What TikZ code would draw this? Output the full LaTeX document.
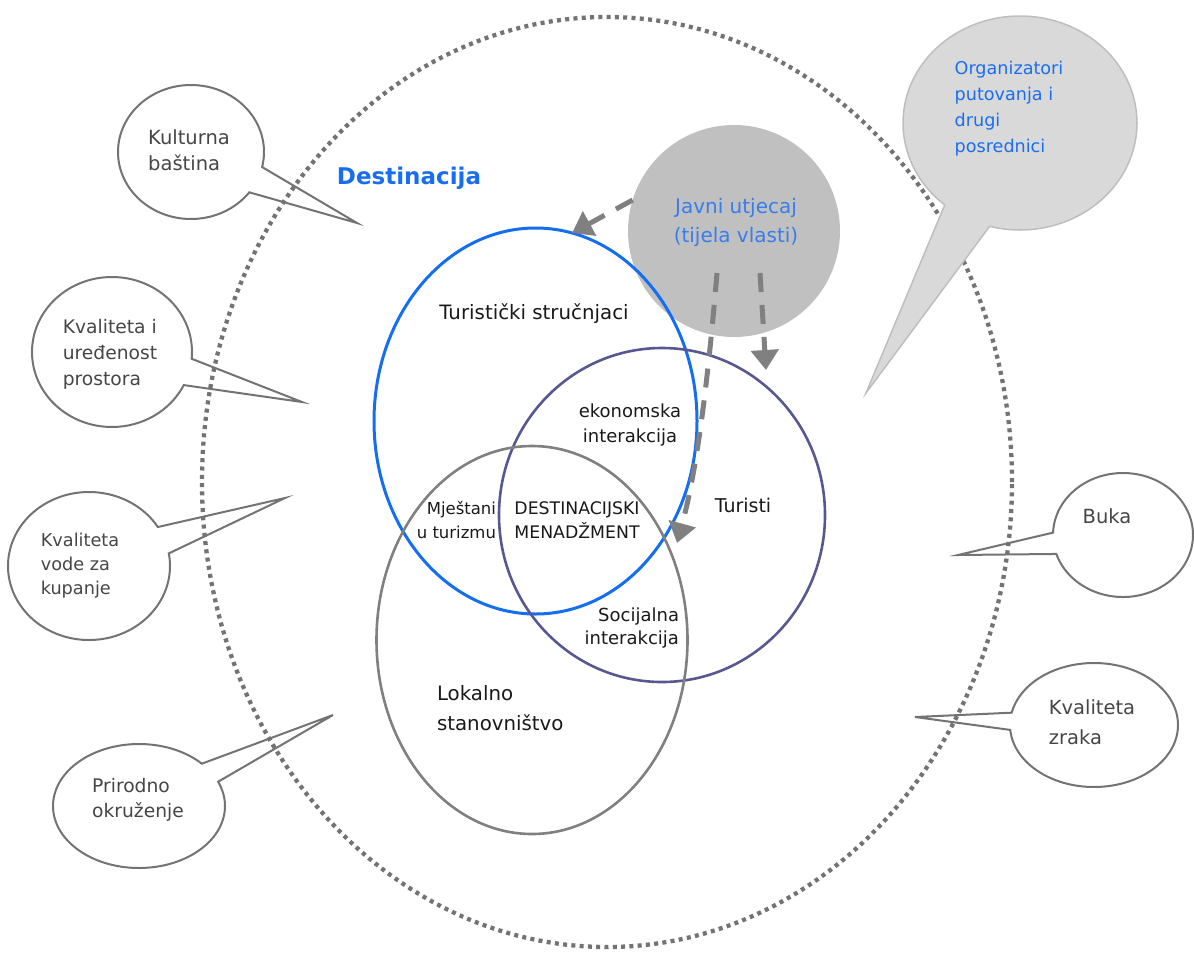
\documentclass[tikz,border=0pt]{standalone}
\usepackage{fontspec}
\setmainfont{DejaVu Sans}
\usetikzlibrary{shapes.geometric,shapes.callouts,arrows.meta}

\definecolor{venblue}{RGB}{20,110,240}
\definecolor{venpurple}{RGB}{88,88,145}
\definecolor{vengray}{RGB}{128,128,128}
\definecolor{dotgray}{RGB}{115,115,115}
\definecolor{bubedge}{RGB}{115,115,115}
\definecolor{bubtext}{RGB}{70,70,70}
\definecolor{govfill}{RGB}{192,192,192}
\definecolor{orgfill}{RGB}{217,217,217}
\definecolor{orgedge}{RGB}{190,190,190}
\definecolor{labelblue}{RGB}{25,110,240}
\definecolor{govblue}{RGB}{55,125,235}
\definecolor{arrowgray}{RGB}{128,128,128}
\definecolor{inktext}{RGB}{25,25,25}

\begin{document}
\begin{tikzpicture}[x=1pt,y=-1pt,
  every node/.style={inner sep=0pt, outer sep=0pt},
  txt/.style={font=\fontsize{#1}{25}\selectfont, text=inktext, align=center},
  txt/.default=18,
  bubtxt/.style={font=\fontsize{#1}{26}\selectfont, text=bubtext, align=left},
  bubtxt/.default=18.5,
  bubble/.style={ellipse callout, draw=bubedge, line width=2pt, fill=white},
  venn/.style={ellipse, line width=2.6pt},
  flow/.style={draw=arrowgray, line width=5pt, dash pattern=on 19pt off 13pt,
    -{Triangle[length=20pt,width=27pt]}},
]
\useasboundingbox (0,0) rectangle (1194,954);

% speech bubbles around the destination
\node[bubble, minimum width=146pt, minimum height=134pt, callout pointer arc=24,
  callout absolute pointer={(357,223)}] (kb) at (191,152) {};
\node[bubtxt=19.5] (kbt) at (189,150) {Kulturna\\baština};

\node[bubble, minimum width=160pt, minimum height=150pt, callout pointer arc=21,
  callout absolute pointer={(302,402)}] (kp) at (112,352) {};
\node[bubtxt=18.7] (kpt) at (110,354) {Kvaliteta i\\uređenost\\prostora};

\node[bubble, minimum width=162pt, minimum height=148pt, callout pointer arc=22,
  callout absolute pointer={(285,498)}] (kv) at (89,566) {};
\node[bubtxt=17.7, font=\fontsize{17.7}{24}\selectfont] (kvt) at (80,566) {Kvaliteta\\vode za\\kupanje};

\node[bubble, minimum width=172pt, minimum height=124pt, callout pointer arc=20,
  callout absolute pointer={(333,715)}] (po) at (139,806) {};
\node[bubtxt=18.7, font=\fontsize{18.7}{25}\selectfont] (pot) at (138,800) {Prirodno\\okruženje};

\node[bubble, minimum width=140pt, minimum height=124pt, callout pointer arc=20,
  callout absolute pointer={(958,555)}] (bu) at (1123,535) {};
\node[bubtxt=19.5] (but) at (1107,516) {Buka};

\node[bubble, minimum width=168pt, minimum height=124pt, callout pointer arc=16,
  callout absolute pointer={(915,717)}] (kz) at (1094,725) {};
\node[bubtxt=19.5, font=\fontsize{19.5}{30}\selectfont] (kzt) at (1092,722) {Kvaliteta\\zraka};

% destination boundary
\node[ellipse, draw=dotgray, line width=4.3pt, dash pattern=on 4pt off 4.3pt,
  minimum width=810pt, minimum height=930pt] (dest) at (607,482) {};
\node[font=\bfseries\fontsize{23}{28}\selectfont, text=labelblue] (destl) at (409,178) {Destinacija};

% intermediaries
\node[ellipse callout, draw=orgedge, fill=orgfill, line width=1.5pt,
  minimum width=234pt, minimum height=214pt, callout pointer arc=25,
  callout absolute pointer={(866,393)}] (org) at (1020,123) {};
\node[bubtxt=17.6, text=labelblue] (orgt) at (1009,109) {Organizatori\\putovanja i\\drugi\\posrednici};

% public authorities
\node[circle, fill=govfill, minimum size=212pt] (gov) at (734,231) {};
\node[font=\fontsize{20}{29}\selectfont, text=govblue, align=center] (govt) at (736,222) {Javni utjecaj\\(tijela vlasti)};

% stakeholder sets
\node[venn, draw=venblue, line width=3pt, minimum width=323pt, minimum height=386pt] (ts) at (535.5,421) {};
\node[venn, draw=venpurple, minimum width=326pt, minimum height=334pt] (tu) at (662,515) {};
\node[venn, draw=vengray, minimum width=311pt, minimum height=388pt] (ls) at (532,640) {};

\node[txt=19.8] (tsl) at (534,314) {Turistički stručnjaci};
\node[txt] (ekl) at (630,425) {ekonomska\\interakcija};
\node[txt=19] (tul) at (743,505) {Turisti};
\node[txt=16.5, align=right, anchor=east, font=\fontsize{16.5}{24}\selectfont] (mjl) at (496,520) {Mještani\\u turizmu};
\node[txt=17.3, font=\fontsize{17.3}{24}\selectfont] (dml) at (577,520) {DESTINACIJSKI\\MENADŽMENT};
\node[txt, align=right, anchor=east, font=\fontsize{18}{23}\selectfont] (sol) at (679,628) {Socijalna\\interakcija};
\node[txt=19.8, align=left, anchor=west, font=\fontsize{19.8}{30}\selectfont] (lsl) at (437,708) {Lokalno\\stanovništvo};

% influence of the authorities
\coordinate (a2e) at (766,370);
\coordinate (a3e) at (677,543);
\draw[flow] (gov.163) -- (ts.79.6);
\draw[flow] ([xshift=26pt,yshift=-42pt]gov.center) -- (a2e);
\draw[flow] ([xshift=-17pt,yshift=-42pt]gov.center) .. controls (708,380) and (697,470) .. (a3e);
\end{tikzpicture}
\end{document}
